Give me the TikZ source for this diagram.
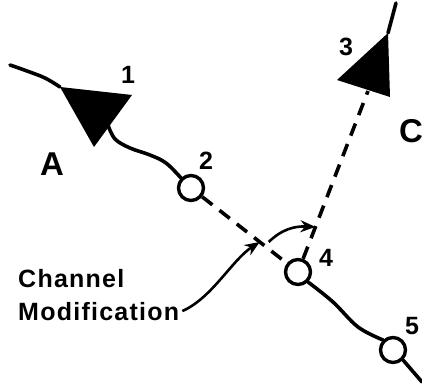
\documentclass[tikz,border=0pt]{standalone}
\usepackage{fontspec}
\setmainfont{Liberation Sans}
\newfontfamily\letterfont[LetterSpace=5]{Liberation Sans}
\usetikzlibrary{arrows.meta}
\begin{document}
\begin{tikzpicture}[x=1pt,y=-1pt,
	stream/.style={line width=3.6pt,line cap=round,line join=round},
	oldbed/.style={line width=3.6pt,dash pattern=on 13pt off 9pt},
	station/.style={circle,draw,line width=3.4pt,fill=white,minimum size=25pt,inner sep=0pt},
	point/.style={font=\bfseries\fontsize{25}{25}\selectfont},
	reach/.style={font=\bfseries\fontsize{33}{33}\selectfont},
	note/.style={font=\letterfont\bfseries\fontsize{25}{25}\selectfont,anchor=base west,inner sep=0pt},
	pointer/.style={line width=2.6pt,-{Stealth[length=15pt,width=12pt]}}]
	\useasboundingbox(0,0)rectangle(422,390);
	% sites along the stream
	\node[station](s2)at(191,188){};
	\node[station](s4)at(298,272){};
	\node[station](s5)at(393,350){};
	% confluence triangles
	\fill(60,87)coordinate(t1w)--(132,95)coordinate(t1e)--(94,147)coordinate(t1s)--cycle;
	\fill(388,33)coordinate(t3n)--(337,80)coordinate(t3w)--(390,97)coordinate(t3e)--cycle;
	\coordinate(t1out)at(108,125);
	\coordinate(t3in)at(368,91);
	\coordinate(srcA)at(10,65);
	\coordinate(srcC)at(396,3);
	\coordinate(mouth)at(422,382);
	% streams
	\draw[stream]plot[smooth,tension=0.6]coordinates{(srcA)(27,71)(45,78)(t1w)};
	\draw[stream]plot[smooth,tension=0.6]coordinates{(t1out)(115,139)(130,148)(150,155)(166,163)(s2.135)};
	\draw[stream]plot[smooth,tension=0.6]coordinates{(s4.-45)(333,302)(358,327)(s5.135)};
	\draw[stream](s5.-45)--(mouth);
	\draw[stream](srcC)--(t3n);
	% abandoned and new channel
	\draw[oldbed](s2)--coordinate[pos=0.68](cross)(s4);
	\draw[oldbed](s4)--coordinate[pos=0.19](bar)(t3in);
	% labels
	\node[point](n1)at(128,75){1};
	\node[point](n2)at(206,161){2};
	\node[point](n3)at(346,47){3};
	\node[point](n4)at(326,258){4};
	\node[point](n5)at(412,326){5};
	\node[reach](rA)at(52,164){A};
	\node[reach](rC)at(411,131){C};
	\node[note](chan)at(18,287){Channel};
	\node[note](modif)at(18,320){Modification};
	\draw[pointer]([xshift=3pt]modif.east)..controls(212,298)and(232,260)..(cross);
	\draw[pointer]([xshift=9pt]cross)..controls(282,229)and(295,226)..(bar);
\end{tikzpicture}
\end{document}
